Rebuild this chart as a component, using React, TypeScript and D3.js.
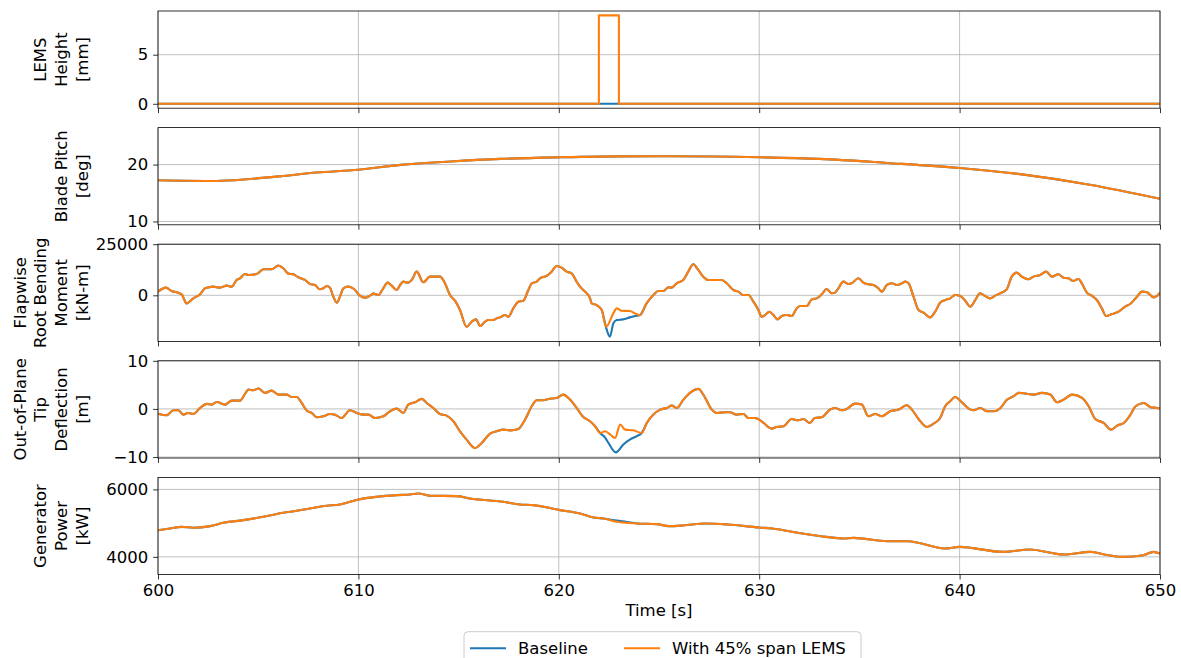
import React from 'react';
import * as d3 from 'd3';

type Pt = [number, number];

const timeTicks = [600, 610, 620, 630, 640, 650];
const seriesNames = ['Baseline', 'With 45% span LEMS'];
const seriesColors = ['#1f77b4', '#ff7f0e'];

// LEMS height [mm]
const heightBaseline: Pt[] = [[600, 0], [650, 0]];
const heightLems: Pt[] = [[600, 0], [622, 0], [622, 9], [623, 9], [623, 0], [650, 0]];

// blade pitch [deg] (both runs overlap)
const pitchLems: Pt[] = [
  [600, 17.24], [602.9, 17.12], [604.6, 17.47], [606.25, 18.0], [607.9, 18.6], [610, 19.1],
  [612.1, 19.95], [614.6, 20.55], [617.1, 21.0], [620.1, 21.29], [622.9, 21.45], [625.6, 21.47],
  [630, 21.29], [633, 21.0], [636.4, 20.29], [640, 19.41], [643.2, 18.24], [646.5, 16.47], [650, 14.0],
];

// flapwise root bending moment [kN-m], with LEMS
const momentLems: Pt[] = [
  [600, 1780], [600.4, 3740], [600.68, 2100], [600.93, 1450], [601.18, 470], [601.43, -3940],
  [601.76, -1490], [602.1, 470], [602.35, 3420], [602.76, 4230], [603.09, 3740], [603.43, 4720],
  [603.68, 4230], [603.92, 7500], [604.09, 8320], [604.34, 10440], [604.51, 9950], [604.92, 10440],
  [605.26, 12730], [605.67, 12730], [606.0, 14520], [606.25, 13220], [606.5, 10600], [606.75, 10280],
  [607.0, 8810], [607.33, 7500], [607.58, 5540], [607.83, 5050], [608.08, 2930], [608.25, 3420],
  [608.42, 4560], [608.58, 3740], [608.75, -670], [608.92, -3610], [609.08, -670], [609.25, 3420],
  [609.5, 4230], [609.78, 3090], [610.08, -180], [610.33, -1160], [610.58, -180], [610.75, 800],
  [611.0, 150], [611.24, 3420], [611.46, 6200], [611.66, 4720], [611.91, 2600], [612.08, 5050],
  [612.24, 6680], [612.49, 6200], [612.66, 7500], [612.91, 11580], [613.24, 6350], [613.57, 9130],
  [614.07, 9130], [614.32, 5870], [614.57, 150], [614.82, -2630], [615.07, -7200], [615.4, -15380],
  [615.65, -12930], [615.87, -11780], [616.07, -15050], [616.32, -12930], [616.48, -12110],
  [616.73, -12110], [616.9, -11290], [617.07, -10800], [617.32, -9660], [617.48, -10470],
  [617.73, -6390], [617.98, -3120], [618.23, -2630], [618.48, 2600], [618.65, 5870], [618.9, 6680],
  [619.06, 8320], [619.39, 9460], [619.64, 11580], [619.89, 14360], [620.14, 13550], [620.39, 11580],
  [620.64, 10770], [620.89, 6680], [621.06, 4230], [621.31, 1780], [621.56, -1490], [621.64, -3940],
  [621.89, -4750], [622.14, -7200], [622.36, -15380], [622.72, -8840], [622.89, -6390],
  [623.14, -7530], [623.55, -7700], [623.8, -8840], [624.05, -9660], [624.38, -3940], [624.72, 150],
  [624.97, 2110], [625.22, 2110], [625.47, 3900], [625.63, 3740], [625.88, 5870], [626.21, 7500],
  [626.46, 11580], [626.71, 15180], [626.96, 12400], [627.21, 9130], [627.46, 7500], [627.79, 7500],
  [628.13, 7500], [628.38, 5870], [628.71, 2600], [628.96, 1780], [629.21, 150], [629.46, 150],
  [629.71, -3120], [629.96, -7200], [630.12, -10470], [630.29, -9660], [630.51, -8020],
  [630.71, -9660], [630.91, -11780], [631.12, -10150], [631.37, -9660], [631.62, -10150],
  [631.87, -6390], [632.04, -5250], [632.37, -5250], [632.62, -1980], [632.87, -1490], [633.12, 480],
  [633.37, 3090], [633.62, 970], [633.78, 1310], [633.95, 3420], [634.2, 6680], [634.45, 5540],
  [634.61, 5870], [634.95, 8320], [635.2, 6200], [635.45, 5380], [635.7, 5050], [635.95, 3420],
  [636.12, 1780], [636.37, 5050], [636.62, 5870], [636.87, 5050], [637.12, 5870], [637.28, 6680],
  [637.45, 5870], [637.7, -670], [637.95, -7200], [638.2, -8510], [638.53, -10800], [638.78, -8020],
  [639.03, -3610], [639.28, -2300], [639.53, -1490], [639.78, 150], [640.03, -340], [640.28, -2630],
  [640.53, -5550], [640.78, -2300], [641.02, 970], [641.27, -340], [641.52, -1490], [641.77, -180],
  [642.02, 970], [642.35, 2930], [642.6, 9130], [642.85, 11090], [643.1, 9130], [643.43, 7830],
  [643.68, 9130], [644.02, 9950], [644.32, 11580], [644.6, 9130], [644.93, 10280], [645.18, 8640],
  [645.43, 8320], [645.68, 7010], [645.93, 7990], [646.1, 5870], [646.35, 1290], [646.6, -180],
  [646.85, -2300], [647.1, -6390], [647.31, -10150], [647.6, -9170], [647.93, -8020], [648.26, -5550],
  [648.51, -4260], [648.85, -670], [649.1, 1780], [649.35, 1460], [649.68, -1000], [649.85, -340],
  [650, 1290],
];
// baseline run differs from LEMS run only around the pulse
const momentBaselineDip: Pt[] = [
  [622.36, -15800], [622.55, -20280], [622.72, -13790], [622.89, -12110], [623.2, -11780],
  [623.55, -10800], [623.8, -10150],
];

// out-of-plane tip deflection [m], with LEMS
const tipLems: Pt[] = [
  [600, -0.98], [600.43, -1.33], [600.77, -0.28], [601.02, -0.28], [601.26, -1.19], [601.51, -0.84],
  [601.76, -1.05], [602.1, 0.2], [602.43, 1.04], [602.68, 0.9], [602.93, 1.45], [603.34, 0.9],
  [603.68, 1.73], [604.09, 1.73], [604.34, 3.12], [604.51, 4.02], [604.76, 3.88], [605.01, 4.23],
  [605.34, 3.33], [605.67, 3.81], [606.0, 2.98], [606.42, 2.98], [606.67, 2.49], [606.92, 2.49],
  [607.17, 1.24], [607.42, -0.35], [607.67, -0.84], [607.92, -1.74], [608.25, -1.54], [608.58, -1.05],
  [608.83, -1.19], [609.16, -1.88], [609.58, -0.28], [609.92, -0.84], [610.25, -1.19], [610.5, -1.19],
  [610.83, -1.88], [611.24, -1.54], [611.58, -0.49], [611.91, 0.06], [612.24, -0.84], [612.49, 0.9],
  [612.82, 1.38], [613.16, 2.08], [613.41, 1.24], [613.74, 0.2], [614.07, -1.05], [614.4, -1.39],
  [614.74, -2.57], [615.07, -4.65], [615.4, -6.39], [615.82, -8.13], [616.15, -7.09], [616.57, -5.14],
  [616.9, -4.65], [617.23, -4.31], [617.57, -4.45], [617.98, -4.17], [618.32, -2.2], [618.65, 0.56],
  [618.9, 1.81], [619.23, 1.81], [619.48, 2.08], [619.89, 2.29], [620.22, 2.98], [620.56, 1.94],
  [620.89, 0.2], [621.22, -1.67], [621.56, -2.57], [621.81, -3.61], [622.06, -5.0], [622.31, -4.65],
  [622.53, -5.2], [622.81, -6.05], [623.06, -3.26], [623.31, -4.31], [623.72, -4.45], [624.14, -5.0],
  [624.39, -2.92], [624.72, -1.18], [625.06, -0.14], [625.39, 0.2], [625.64, 0.69], [625.89, 0.2],
  [626.22, 1.94], [626.55, 3.33], [626.97, 4.16], [627.21, 2.98], [627.63, -0.14], [627.88, -0.84],
  [628.29, -0.7], [628.54, -0.7], [628.88, -1.18], [629.21, -1.05], [629.46, -1.88], [629.79, -1.88],
  [630.12, -2.57], [630.62, -4.1], [630.87, -3.75], [631.21, -3.61], [631.62, -2.09], [631.95, -2.37],
  [632.2, -2.09], [632.53, -2.92], [632.78, -1.88], [633.12, -1.74], [633.53, -0.14], [633.78, 0.2],
  [634.12, -0.28], [634.37, 0.0], [634.78, 1.1], [635.12, 0.9], [635.45, -1.53], [635.79, -1.05],
  [636.12, -1.53], [636.53, -0.49], [636.95, -0.14], [637.37, 0.76], [637.62, -0.14], [637.95, -2.09],
  [638.37, -3.75], [638.7, -3.06], [639.03, -1.88], [639.28, 0.56], [639.53, 1.6], [639.78, 2.49],
  [640.11, 1.38], [640.45, 0.07], [640.7, -0.28], [641.03, 0.2], [641.37, -0.49], [641.7, -0.49],
  [642.04, 0.2], [642.37, 1.94], [642.7, 2.64], [642.95, 3.33], [643.28, 3.19], [643.7, 2.98],
  [644.11, 3.33], [644.53, 2.98], [644.86, 1.38], [645.19, 1.94], [645.61, 2.98], [646.11, 2.29],
  [646.44, 0.56], [646.77, -2.09], [647.19, -2.92], [647.56, -4.31], [647.86, -3.47], [648.19, -2.92],
  [648.53, -1.18], [648.78, 0.56], [649.19, 1.24], [649.53, 0.35], [649.86, 0.2], [650, 0.07],
];
const tipBaselineDip: Pt[] = [
  [622.3, -5.9], [622.48, -7.09], [622.85, -9.03], [623.21, -7.44], [623.54, -6.39], [623.87, -5.7],
];

// generator power [kW], with LEMS
const powerLems: Pt[] = [
  [600, 4792], [600.6, 4842], [601.18, 4891], [601.76, 4862], [602.6, 4911], [603.26, 5010],
  [604.26, 5089], [605.26, 5188], [606.25, 5307], [606.92, 5366], [607.58, 5436], [608.42, 5515],
  [609.08, 5554], [610.0, 5703], [610.91, 5782], [611.91, 5832], [612.57, 5851], [612.99, 5881],
  [613.57, 5812], [614.9, 5802], [615.57, 5733], [617.23, 5634], [618.06, 5554], [618.73, 5535],
  [620.06, 5386], [621.06, 5287], [621.73, 5168], [622.23, 5139], [622.9, 5040], [623.9, 4990],
  [624.9, 4970], [625.48, 4911], [626.2, 4930], [627.34, 4990], [628.44, 4960], [630.0, 4871],
  [630.64, 4842], [632.17, 4693], [633.35, 4594], [634.2, 4545], [634.7, 4564], [636.4, 4465],
  [637.41, 4465], [639.27, 4248], [640.0, 4297], [642.15, 4149], [643.5, 4218], [645.19, 4069],
  [646.55, 4149], [647.22, 4069], [648.16, 4000], [649.17, 4050], [649.68, 4149], [650, 4099],
];
const powerBaselineDip: Pt[] = [[622.9, 5075], [623.4, 5035]];

const withDip = (run: Pt[], dip: Pt[]): Pt[] => {
  const lo = dip[0][0] - 0.1, hi = dip[dip.length - 1][0] + 0.1;
  return [...run.filter(d => d[0] < lo), ...dip, ...run.filter(d => d[0] > hi)]
    .sort((a, b) => a[0] - b[0]);
};

const panels = [
  { label: ['LEMS', 'Height', '[mm]'], domain: [-0.45, 9.45], ticks: [0, 5], step: true,
    series: [heightBaseline, heightLems] },
  { label: ['Blade Pitch', '[deg]'], domain: [9.42, 26.5], ticks: [10, 20], step: false,
    series: [pitchLems, pitchLems] },
  { label: ['Flapwise', 'Root Bending', 'Moment', '[kN-m]'], domain: [-22550, 25000], ticks: [0, 25000], step: false,
    series: [withDip(momentLems, momentBaselineDip), momentLems] },
  { label: ['Out-of-Plane', 'Tip', 'Deflection', '[m]'], domain: [-10.2, 10.0], ticks: [-10, 0, 10], step: false,
    series: [withDip(tipLems, tipBaselineDip), tipLems] },
  { label: ['Generator', 'Power', '[kW]'], domain: [3475, 6356], ticks: [4000, 6000], step: false,
    series: [withDip(powerLems, powerBaselineDip), powerLems] },
];

const FONT = 'DejaVu Sans, sans-serif';
const FS = 16.5;

const App = () => {
  const svgRef = React.useRef<SVGSVGElement>(null);

  React.useEffect(() => {
    const svg = d3.select(svgRef.current);
    svg.selectAll('*').remove();

    const left = 158, right = 1160, top0 = 11, panelH = 97.2, gap = 116.6;
    const x = d3.scaleLinear().domain([600, 650]).range([left, right]);

    panels.forEach((p, i) => {
      const top = top0 + i * gap;
      const bottom = top + panelH;
      const y = d3.scaleLinear().domain(p.domain).range([bottom, top]);
      const g = svg.append('g');

      // grid
      g.selectAll('.vgrid').data(timeTicks).join('line')
        .attr('x1', d => x(d)).attr('x2', d => x(d))
        .attr('y1', top).attr('y2', bottom)
        .attr('stroke', '#b0b0b0').attr('stroke-width', 0.8);
      g.selectAll('.hgrid').data(p.ticks).join('line')
        .attr('x1', left).attr('x2', right)
        .attr('y1', d => y(d)).attr('y2', d => y(d))
        .attr('stroke', '#b0b0b0').attr('stroke-width', 0.8);

      const clipId = `clip-${i}`;
      svg.append('clipPath').attr('id', clipId)
        .append('rect').attr('x', left).attr('y', top)
        .attr('width', right - left).attr('height', panelH);

      const line = d3.line<Pt>()
        .x(d => x(d[0])).y(d => y(d[1]))
        .curve(p.step ? d3.curveLinear : d3.curveMonotoneX);

      p.series.forEach((s, k) => {
        g.append('path')
          .attr('clip-path', `url(#${clipId})`)
          .attr('d', line(s))
          .attr('fill', 'none')
          .attr('stroke', seriesColors[k])
          .attr('stroke-width', 2.1)
          .attr('stroke-linejoin', 'round');
      });

      // frame
      g.append('rect')
        .attr('x', left).attr('y', top)
        .attr('width', right - left).attr('height', panelH)
        .attr('fill', 'none').attr('stroke', '#000').attr('stroke-width', 0.8);

      const yAxisG = g.append('g').attr('transform', `translate(${left},0)`)
        .call(d3.axisLeft(y).tickValues(p.ticks).tickSize(4.9).tickPadding(4.9)
          .tickFormat(d3.format('d') as any));
      const isLast = i === panels.length - 1;
      const xAxisG = g.append('g').attr('transform', `translate(0,${bottom})`)
        .call(d3.axisBottom(x).tickValues(timeTicks).tickSize(4.9).tickPadding(4.9)
          .tickFormat(isLast ? (d3.format('d') as any) : () => ''));
      [yAxisG, xAxisG].forEach(ax => {
        ax.select('.domain').remove();
        ax.attr('font-family', FONT).attr('font-size', FS).attr('color', '#000');
        ax.selectAll('line').attr('stroke-width', 0.8);
      });

      // y label, multi-line rotated
      const cy = (top + bottom) / 2;
      const n = p.label.length;
      p.label.forEach((t, k) => {
        const lx = 82 - (n - 1 - k) * 20.6;
        svg.append('text')
          .attr('transform', `translate(${lx},${cy}) rotate(-90)`)
          .attr('text-anchor', 'middle')
          .attr('dominant-baseline', 'central')
          .attr('font-family', FONT).attr('font-size', FS)
          .text(t);
      });
    });

    svg.append('text')
      .attr('x', (left + right) / 2).attr('y', 616)
      .attr('text-anchor', 'middle')
      .attr('font-family', FONT).attr('font-size', FS)
      .text('Time [s]');

    // legend
    const lg = svg.append('g');
    lg.append('rect')
      .attr('x', 464).attr('y', 631.7).attr('width', 397).attr('height', 42).attr('rx', 4)
      .attr('fill', '#fff').attr('fill-opacity', 0.8)
      .attr('stroke', '#cccccc').attr('stroke-width', 1);
    const entryX = [470, 624];
    seriesNames.forEach((name, k) => {
      lg.append('line')
        .attr('x1', entryX[k]).attr('x2', entryX[k] + 36)
        .attr('y1', 648.3).attr('y2', 648.3)
        .attr('stroke', seriesColors[k]).attr('stroke-width', 2.1);
      lg.append('text')
        .attr('x', entryX[k] + 48).attr('y', 648.3)
        .attr('dominant-baseline', 'central')
        .attr('font-family', FONT).attr('font-size', FS)
        .text(name);
    });
  }, []);

  return (
    <svg ref={svgRef} width={1181} height={658}
      style={{ position: 'absolute', left: 0, top: 0, background: '#fff' }} />
  );
};

export default App;
